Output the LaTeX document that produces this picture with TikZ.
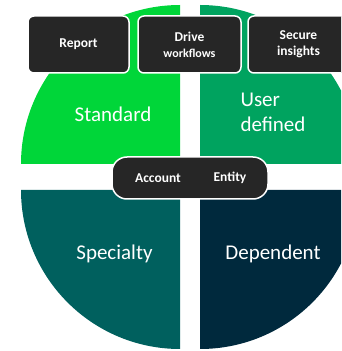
\documentclass[tikz,border=0pt]{standalone}
\usepackage{fontspec}
\setmainfont{Carlito}
\usepackage{xcolor}
\usetikzlibrary{positioning,calc}
\definecolor{stdgreen}{RGB}{0,214,57}
\definecolor{usergreen}{RGB}{0,163,95}
\definecolor{specteal}{RGB}{0,96,94}
\definecolor{depnavy}{RGB}{0,41,61}
\definecolor{boxgray}{RGB}{38,38,38}

\begin{document}
\begin{tikzpicture}[x=1pt, y=1pt,
    tagbox/.style={rectangle, rounded corners=6pt, fill=boxgray, draw=white, line width=1.5pt,
        text=white, font=\fontsize{13.5}{16}\selectfont\bfseries, align=center,
        minimum width=101pt, minimum height=57pt, inner sep=2pt},
    pill/.style={rectangle, rounded corners=15pt, fill=boxgray, draw=white, line width=1.5pt,
        minimum width=156pt, minimum height=42pt},
    pilltext/.style={text=white, font=\fontsize{13.5}{14}\selectfont\bfseries},
    quadtext/.style={text=white, font=\fontsize{21}{25}\selectfont}]
    \useasboundingbox (0,0) rectangle (341,351);
    \clip (0,0) rectangle (341,351);

    % Quadrants
    \fill[stdgreen] (180,187) -- ++(-159,0) arc[start angle=180, end angle=90, radius=159] -- cycle;
    \fill[usergreen] (200,187) -- ++(0,159) arc[start angle=90, end angle=0, radius=159] -- cycle;
    \fill[specteal] (180,161) -- ++(-159,0) arc[start angle=180, end angle=270, radius=159] -- cycle;
    \fill[depnavy] (200,161) -- ++(159,0) arc[start angle=0, end angle=-90, radius=159] -- cycle;

    \node[quadtext] (standard) at (113,237) {Standard};
    \node[quadtext, anchor=west, align=left] (userdef) at (237,239) {User\\defined};
    \node[quadtext] (specialty) at (114.5,97) {Specialty};
    \node[quadtext] (dependent) at (273,97) {Dependent};

    % Top boxes
    \node[tagbox] (report) at (78.5,306.5) {Report};
    \node[tagbox, minimum width=103pt] (drive) at (189.5,306.5) {Drive\\{\fontsize{12}{13}\selectfont workflows}};
    \node[tagbox] (secure) at (298.5,306.5) {Secure\\insights};

    % Middle pill
    \node[pill] (keys) at (190,173) {};
    \node[pilltext] (account) at (158,173) {Account};
    \node[pilltext] (entity) at (230,173) {Entity};
\end{tikzpicture}
\end{document}
